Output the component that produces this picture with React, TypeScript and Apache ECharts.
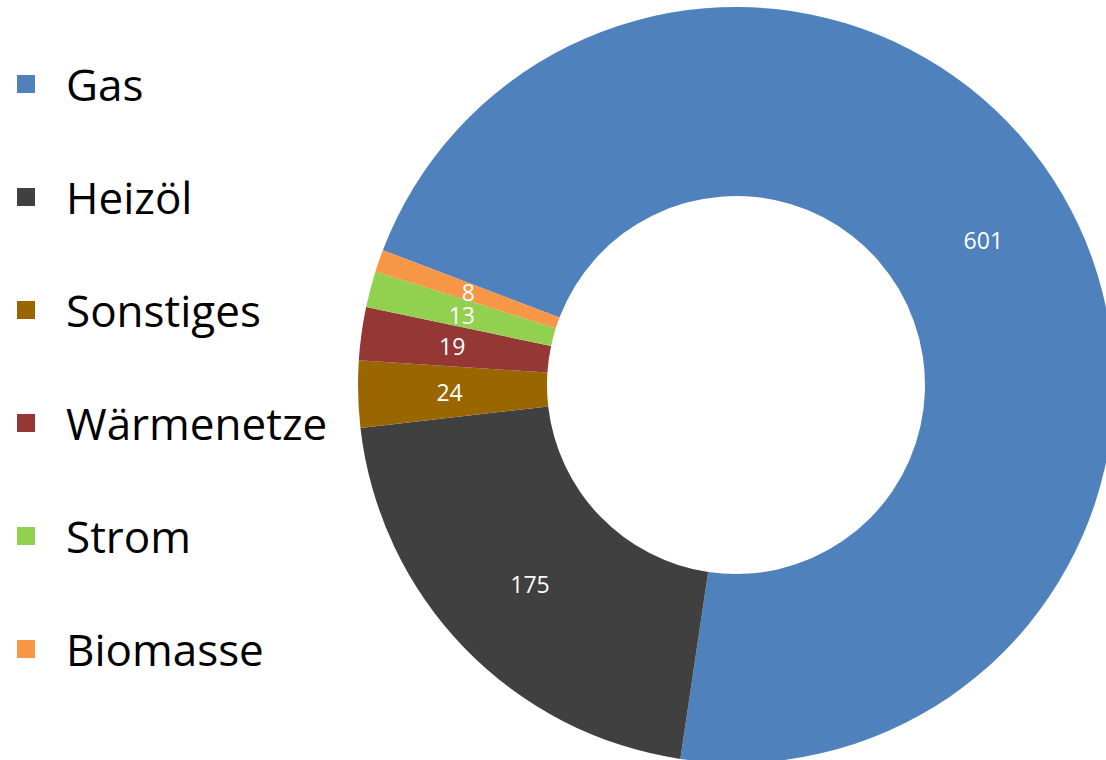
import React, { useEffect, useRef } from "react";
import * as echarts from "echarts";

const categories = ["Gas", "Heizöl", "Sonstiges", "Wärmenetze", "Strom", "Biomasse"];
const values = [601, 175, 24, 19, 13, 8];
const colors = ["#4F81BD", "#404040", "#996600", "#953735", "#92D050", "#F79646"];

// small nudges of the crowded inside labels (as in the reference)
const labelNudge: Record<string, number[]> = { Strom: [3, 3], Biomasse: [3, 1] };

export default function App() {
  const ref = useRef<HTMLDivElement>(null);
  useEffect(() => {
    if (!ref.current) return;
    const chart = echarts.init(ref.current, undefined, { renderer: "svg" });
    chart.setOption({
      animation: false,
      color: colors,
      legend: {
        orient: "vertical",
        left: 12,
        top: 57,
        itemWidth: 18,
        itemHeight: 18,
        itemGap: 69,
        icon: "rect",
        data: categories,
        textStyle: {
          fontFamily: "Open Sans",
          fontSize: 44,
          color: "#000",
          lineHeight: 44,
          padding: [0, 0, 0, 26],
        },
      },
      series: [
        {
          type: "pie",
          center: [736, 385],
          radius: [189, 378],
          startAngle: 159.1,
          clockwise: true,
          avoidLabelOverlap: false,
          label: {
            show: true,
            position: "inside",
            formatter: "{c}",
            color: "#fff",
            fontFamily: "Open Sans",
            fontSize: 23,
            lineHeight: 18,
          },
          labelLayout: { hideOverlap: false },
          labelLine: { show: false },
          itemStyle: { borderWidth: 0 },
          emphasis: { disabled: true },
          data: categories.map((n, i) => ({
            name: n,
            value: values[i],
            ...(labelNudge[n] ? { label: { offset: labelNudge[n] } } : {}),
          })),
        },
      ],
    });
    return () => chart.dispose();
  }, []);
  return (
    <div
      ref={ref}
      style={{ position: "fixed", left: 0, top: 0, width: 1106, height: 760, background: "#fff" }}
    />
  );
}
